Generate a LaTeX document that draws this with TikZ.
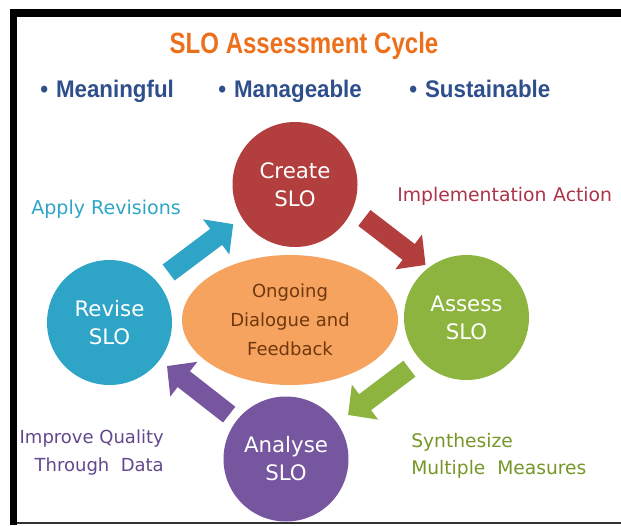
\documentclass[tikz,border=0pt]{standalone}
\usepackage{fontspec}
\setmainfont{DejaVu Sans}
\newfontfamily\titlefont[FakeStretch=0.82]{Liberation Sans}
\newfontfamily\bulletfont[FakeStretch=0.93]{Liberation Sans}
\usetikzlibrary{arrows.meta,shapes.geometric}

\definecolor{createred}{RGB}{178,62,62}
\definecolor{assessgreen}{RGB}{140,180,62}
\definecolor{analysepurple}{RGB}{118,86,158}
\definecolor{reviseblue}{RGB}{46,164,199}
\definecolor{dialogueorange}{RGB}{246,163,96}
\definecolor{dialoguebrown}{RGB}{112,56,12}
\definecolor{titleorange}{RGB}{236,112,28}
\definecolor{bulletblue}{RGB}{46,78,140}
\definecolor{implred}{RGB}{172,52,72}
\definecolor{improvepurple}{RGB}{98,72,140}
\definecolor{synthgreen}{RGB}{118,150,40}

\begin{document}
\begin{tikzpicture}[x=0.75pt, y=-0.75pt,
    stage node/.style={circle, minimum size=93.75pt, inner sep=0pt, text=white,
      align=center, font=\fontsize{16}{21}\selectfont},
    bullet text/.style={anchor=base west, text=bulletblue, inner sep=0pt,
      font=\bulletfont\bfseries\fontsize{18}{22}\selectfont},
    label text/.style={inner sep=0pt, font=\fontsize{14}{21}\selectfont},
    flow/.style={line width=15pt, -{Triangle[length=16pt,width=32pt]}}]

  \useasboundingbox (0,0) rectangle (621,525);
  % frame
  \fill (10,9) rectangle (621,17);
  \fill (10,9) rectangle (17,525);
  \draw[line width=1.2pt, black!80] (17,523) -- (621,523);

  % heading
  \node[anchor=base, inner sep=0pt, text=titleorange,
        font=\titlefont\bfseries\fontsize{22}{26}\selectfont] (title) at (304,53) {SLO Assessment Cycle};
  \node[bullet text] (meaningful) at (40,97)  {\textbullet\hspace{6pt}Meaningful};
  \node[bullet text] (manageable) at (218,97) {\textbullet\hspace{6pt}Manageable};
  \node[bullet text] (sustainable) at (409,97) {\textbullet\hspace{6pt}Sustainable};

  % cycle
  \node[ellipse, minimum width=162pt, minimum height=97.5pt, inner sep=0pt,
        fill=dialogueorange, text=dialoguebrown, align=center,
        font=\fontsize{13.5}{21.75}\selectfont] (dialogue) at (290,320) {Ongoing\\Dialogue and\\Feedback};
  \node[stage node, fill=createred]     (create)  at (295,184.5) {Create\\SLO};
  \node[stage node, fill=assessgreen]   (assess)  at (466.5,317.5) {Assess\\SLO};
  \node[stage node, fill=analysepurple] (analyse) at (286,459) {Analyse\\SLO};
  \node[stage node, fill=reviseblue]    (revise)  at (109.5,322.5) {Revise\\SLO};

  \path
    (revise.41)   edge[flow, reviseblue, shorten <=11pt, shorten >=8pt] (create.212)
    (create.-23)  edge[flow, createred, shorten <=11pt, shorten >=3pt] (assess.127)
    (assess.223)  edge[flow, assessgreen, shorten <=10.5pt, shorten >=10pt] (analyse.35)
    (analyse.142) edge[flow, analysepurple, shorten <=7pt, shorten >=7pt] (revise.-37);

  % step labels
  \node[label text, anchor=base west, text=reviseblue,
        font=\fontsize{14.3}{21}\selectfont] (apply) at (31,214) {Apply Revisions};
  \node[label text, anchor=base west, text=implred,
        font=\fontsize{14.1}{21}\selectfont] (implement) at (397,201) {Implementation\hspace{5pt}Action};
  \node[label text, anchor=north east, align=right, text=improvepurple,
        font=\fontsize{13.5}{21}\selectfont] (improve) at (164,430) {Improve Quality\\Through\ \ Data};
  \node[label text, anchor=north west, align=left, text=synthgreen,
        font=\fontsize{14}{20.25}\selectfont] (synthesize) at (411,433) {Synthesize\\Multiple\ \ Measures};
\end{tikzpicture}
\end{document}
